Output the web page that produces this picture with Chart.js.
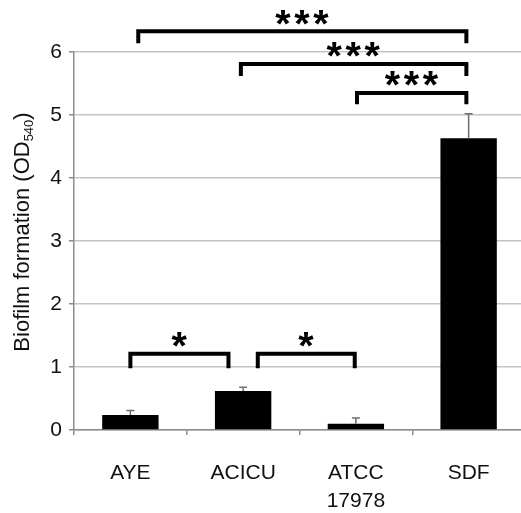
<!DOCTYPE html>
<html>
<head>
<meta charset="utf-8">
<script src="https://cdn.jsdelivr.net/npm/chart.js@4/dist/chart.umd.min.js"></script>
<style>
  html, body { margin: 0; padding: 0; background: #fff; overflow: hidden; }
  #wrap { position: relative; width: 528px; height: 513px; }
</style>
</head>
<body>
<div id="wrap"><canvas id="chart"></canvas></div>
<script>
// strains and mean biofilm formation (OD540), upper error bars
const strains = [['AYE'], ['ACICU'], ['ATCC', '17978'], ['SDF']];
const biofilm = [0.24, 0.62, 0.10, 4.63];
const biofilmErr = [0.07, 0.06, 0.09, 0.39];
const yTicks = [0, 1, 2, 3, 4, 5, 6];

// significance brackets: x in category units, y in OD units
const bracketFrom = [0.07, 0.98, 2.01, 0.00, 1.13];
const bracketTo = [2.98, 2.98, 2.98, 0.87, 1.99];
const bracketY = [6.33, 5.81, 5.35, 1.21, 1.21];
const bracketLegY = [6.14, 5.62, 5.17, 0.98, 0.98];
const bracketStars = ['***', '***', '***', '*', '*'];

const FONT = '"Liberation Sans", Arial, sans-serif';

// upper error bars with a small cap
const errorBars = {
  id: 'errorBars',
  afterDatasetsDraw(chart) {
    const ctx = chart.ctx;
    const y = chart.scales.y;
    const bars = chart.getDatasetMeta(0).data;
    ctx.save();
    ctx.strokeStyle = '#6e6e6e';
    ctx.lineWidth = 1.5;
    bars.forEach((bar, i) => {
      const top = y.getPixelForValue(biofilm[i] + biofilmErr[i]);
      ctx.beginPath();
      ctx.moveTo(bar.x, bar.y);
      ctx.lineTo(bar.x, top);
      ctx.moveTo(bar.x - 4, top);
      ctx.lineTo(bar.x + 4, top);
      ctx.stroke();
    });
    ctx.restore();
  }
};

// draw asterisks centred on (cx, cy), glyph about 15px high
function drawStars(ctx, text, cx, cy) {
  ctx.font = 'bold 100px ' + FONT;
  let m = ctx.measureText('*');
  const size = 15 * 100 / (m.actualBoundingBoxAscent + m.actualBoundingBoxDescent);
  ctx.font = 'bold ' + size + 'px ' + FONT;
  m = ctx.measureText('*');
  const gap = 19;
  const n = text.length;
  ctx.textAlign = 'left';
  ctx.textBaseline = 'alphabetic';
  for (let k = 0; k < n; k++) {
    const sx = cx + (k - (n - 1) / 2) * gap;
    const x = sx - (m.actualBoundingBoxRight - m.actualBoundingBoxLeft) / 2;
    const base = cy - (m.actualBoundingBoxDescent - m.actualBoundingBoxAscent) / 2;
    ctx.fillText('*', x, base);
  }
}

const brackets = {
  id: 'brackets',
  afterDraw(chart) {
    const ctx = chart.ctx;
    const x = chart.scales.x;
    const y = chart.scales.y;
    ctx.save();
    ctx.strokeStyle = '#000';
    ctx.fillStyle = '#000';
    ctx.lineWidth = 4;
    ctx.lineJoin = 'miter';
    ctx.lineCap = 'butt';
    bracketFrom.forEach((from, i) => {
      const x0 = x.getPixelForValue(from);
      const x1 = x.getPixelForValue(bracketTo[i]);
      const yl = y.getPixelForValue(bracketY[i]);
      const yl2 = y.getPixelForValue(bracketLegY[i]);
      ctx.beginPath();
      ctx.moveTo(x0, yl2);
      ctx.lineTo(x0, yl);
      ctx.lineTo(x1, yl);
      ctx.lineTo(x1, yl2);
      ctx.stroke();
      drawStars(ctx, bracketStars[i], (x0 + x1) / 2, yl - 14);
    });
    ctx.restore();
  }
};

// y axis title with subscript
const yTitle = {
  id: 'yTitle',
  afterDraw(chart) {
    const ctx = chart.ctx;
    const main = 'Biofilm formation (OD';
    const sub = '540';
    const close = ')';
    ctx.save();
    ctx.fillStyle = '#111';
    ctx.textBaseline = 'alphabetic';
    ctx.textAlign = 'left';
    ctx.font = '22px ' + FONT;
    const w1 = ctx.measureText(main).width;
    const w3 = ctx.measureText(close).width;
    ctx.font = '13px ' + FONT;
    const w2 = ctx.measureText(sub).width;
    const total = w1 + w2 + w3;
    ctx.translate(29, 232);
    ctx.rotate(-Math.PI / 2);
    let px = -total / 2;
    ctx.font = '22px ' + FONT;
    ctx.fillText(main, px, 0);
    px += w1;
    ctx.font = '13px ' + FONT;
    ctx.fillText(sub, px, 4);
    px += w2;
    ctx.font = '22px ' + FONT;
    ctx.fillText(close, px, 0);
    ctx.restore();
  }
};

new Chart(document.getElementById('chart'), {
  type: 'bar',
  data: {
    labels: strains,
    datasets: [{
      data: biofilm,
      backgroundColor: '#000',
      borderWidth: 0,
      categoryPercentage: 1,
      barPercentage: 0.5
    }]
  },
  options: {
    responsive: true,
    maintainAspectRatio: false,
    animation: false,
    layout: { padding: { top: 52, right: 3, left: 0, bottom: 0 } },
    plugins: { legend: { display: false }, tooltip: { enabled: false } },
    scales: {
      x: {
        grid: { drawOnChartArea: false, offset: true, tickLength: 5, color: '#8c8c8c', lineWidth: 1.5 },
        border: { color: '#8c8c8c', width: 1.5 },
        ticks: {
          color: '#111', padding: 24, maxRotation: 0, autoSkip: false,
          font: { family: FONT, size: 21, lineHeight: 1.35 }
        },
        afterFit(scale) { scale.height = 83; }
      },
      y: {
        min: 0,
        max: 6,
        afterBuildTicks(scale) { scale.ticks = yTicks.map(v => ({ value: v })); },
        grid: { color: '#c4c4c4', lineWidth: 1.5, tickLength: 5, tickColor: '#8c8c8c' },
        border: { color: '#8c8c8c', width: 1.5 },
        ticks: { color: '#111', padding: 7, font: { family: FONT, size: 21 } },
        afterFit(scale) { scale.width = 74; }
      }
    }
  },
  plugins: [errorBars, brackets, yTitle]
});
</script>
</body>
</html>
